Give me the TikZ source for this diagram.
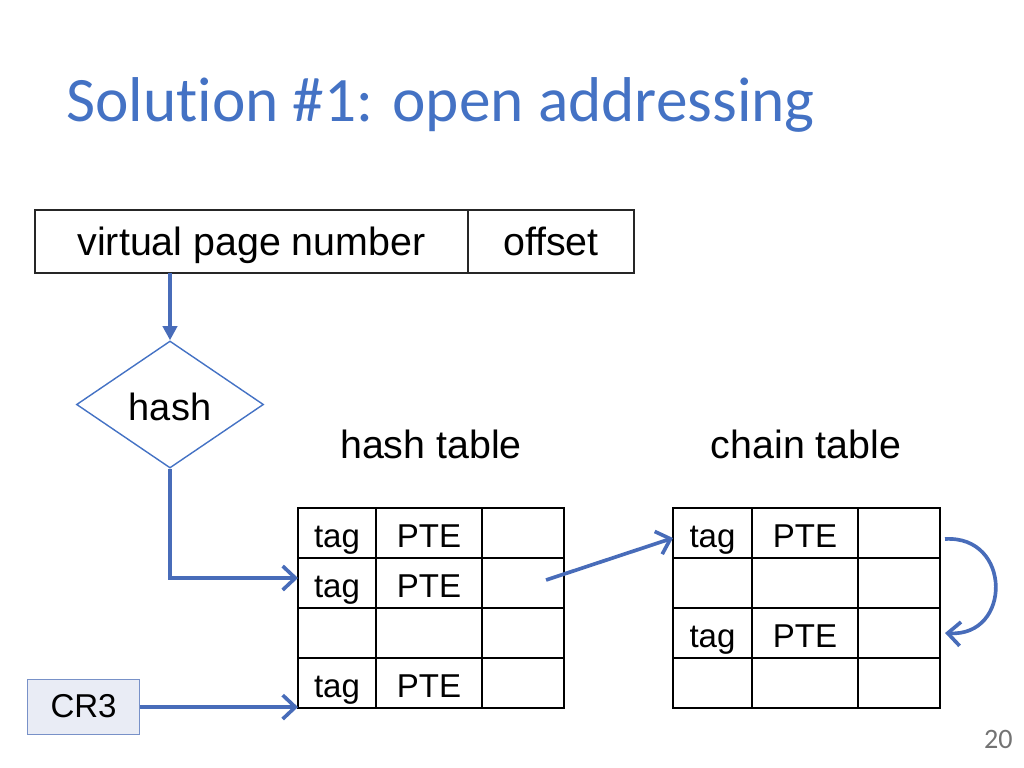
\documentclass[tikz,border=0pt]{standalone}
\usepackage{fontspec}
\setmainfont{Liberation Sans}
\newfontfamily\titlefont[Ligatures=NoCommon]{Carlito}
\usetikzlibrary{shapes.geometric,arrows.meta,calc}
\definecolor{accent}{RGB}{68,114,196}
\definecolor{arrowblue}{RGB}{72,108,185}
\definecolor{crfill}{RGB}{233,236,245}
\definecolor{crline}{RGB}{120,145,200}
\begin{document}
\begin{tikzpicture}[x=0.025cm,y=-0.025cm,
  cell/.style={draw=black, line width=1.1pt, inner sep=0pt, outer sep=0pt, anchor=north west,
    minimum height=1.25cm, text height=0.7cm, text depth=0pt, font=\fontsize{23.5}{26}\selectfont},
  topbox/.style={draw=black!85, line width=1.1pt, inner sep=0pt, outer sep=0pt, anchor=north west,
    minimum height=1.575cm, text height=0.675cm, text depth=0pt, font=\fontsize{28}{32}\selectfont},
  tlabel/.style={anchor=base, font=\fontsize{28}{32}\selectfont},
  arr/.style={draw=arrowblue, line width=2.6pt},
  barbtip/.style={-{Straight Barb[length=9pt,width=17pt]}},
  solidtip/.style={-{Triangle[length=10pt,width=10pt]}}
]
\useasboundingbox (0,0) rectangle (1024,768);

% title and page number
\node[anchor=base west, text=accent, inner sep=0pt, font=\titlefont\fontsize{45}{54}\selectfont] (title) at (66,122) {Solution \#1: open addressing};
\node[anchor=base east, text=black!55, inner sep=0pt, font=\titlefont\fontsize{20}{24}\selectfont] (pg) at (1013,748) {20};

% virtual address
\node[topbox, minimum width=10.825cm] (vpn) at (35,210) {virtual page number};
\node[topbox, minimum width=4.15cm] (off) at (468,210) {offset};

% hash function
\node[diamond, draw=accent, line width=1pt, inner sep=0pt, minimum width=4.675cm, minimum height=3.175cm,
  text height=0.775cm, text depth=0pt, font=\fontsize{27}{30}\selectfont] (hash) at (170,404.5) {hash};

% labels
\node[tlabel] (htl) at (431,458) {hash table};
\node[tlabel] (ctl) at (806,458) {chain table};

% hash table
\node[cell, minimum width=1.95cm] (h11) at (298,508) {tag};
\node[cell, minimum width=2.65cm] (h12) at (376,508) {PTE};
\node[cell, minimum width=2.05cm] (h13) at (482,508) {};
\node[cell, minimum width=1.95cm] (h21) at (298,558) {tag};
\node[cell, minimum width=2.65cm] (h22) at (376,558) {PTE};
\node[cell, minimum width=2.05cm] (h23) at (482,558) {};
\node[cell, minimum width=1.95cm] (h31) at (298,608) {};
\node[cell, minimum width=2.65cm] (h32) at (376,608) {};
\node[cell, minimum width=2.05cm] (h33) at (482,608) {};
\node[cell, minimum width=1.95cm] (h41) at (298,658) {tag};
\node[cell, minimum width=2.65cm] (h42) at (376,658) {PTE};
\node[cell, minimum width=2.05cm] (h43) at (482,658) {};

% chain table
\node[cell, minimum width=1.975cm] (c11) at (673,508) {tag};
\node[cell, minimum width=2.65cm] (c12) at (752,508) {PTE};
\node[cell, minimum width=2.05cm] (c13) at (858,508) {};
\node[cell, minimum width=1.975cm] (c21) at (673,558) {};
\node[cell, minimum width=2.65cm] (c22) at (752,558) {};
\node[cell, minimum width=2.05cm] (c23) at (858,558) {};
\node[cell, minimum width=1.975cm] (c31) at (673,608) {tag};
\node[cell, minimum width=2.65cm] (c32) at (752,608) {PTE};
\node[cell, minimum width=2.05cm] (c33) at (858,608) {};
\node[cell, minimum width=1.975cm] (c41) at (673,658) {};
\node[cell, minimum width=2.65cm] (c42) at (752,658) {};
\node[cell, minimum width=2.05cm] (c43) at (858,658) {};

% CR3
\node[draw=crline, fill=crfill, line width=0.8pt, inner sep=0pt, anchor=north west,
  minimum width=2.8cm, minimum height=1.375cm, text height=0.525cm, text depth=0pt,
  font=\fontsize{23.5}{26}\selectfont] (cr3) at (27,679) {CR3};

% connectors
\draw[arr, solidtip] (hash.north |- vpn.south) -- (hash.north);
\draw[arr, barbtip] (hash.south) |- ($(h21.west)+(0,-5)$);
\draw[arr, barbtip] (cr3.east) -- (cr3.east -| h41.west);
\coordinate (hs) at ($(h23.center)+(23,-3)$);
\draw[arr, barbtip] (hs) -- ($(c11.west)+(0,5)$);
\draw[arr, barbtip] ($(c13.east)+(5,6)$) .. controls +(67,-4) and +(67,4) .. ($(c33.east)+(5,0)$);
\end{tikzpicture}
\end{document}
